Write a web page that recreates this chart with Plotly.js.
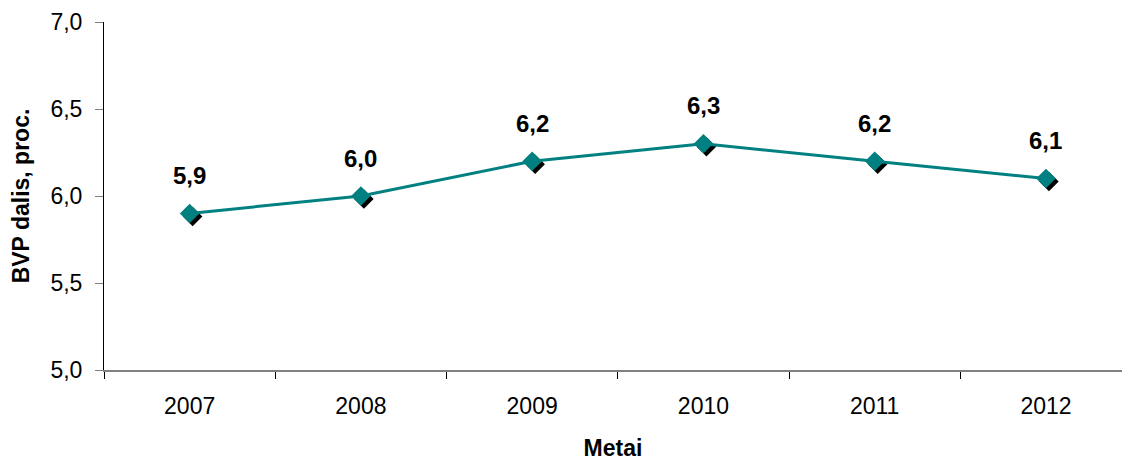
<!DOCTYPE html>
<html>
<head>
<meta charset="utf-8">
<script src="https://cdn.plot.ly/plotly-3.0.1.min.js"></script>
<style>html,body{margin:0;padding:0;background:#fff;}#chart{width:1122px;height:461px;}</style>
</head>
<body>
<div id="chart"></div>
<script>
const years = ['2007', '2008', '2009', '2010', '2011', '2012'];
const values = [5.9, 6.0, 6.2, 6.3, 6.2, 6.1];
const yTicks = [5.0, 5.5, 6.0, 6.5, 7.0];

const fmt = v => v.toFixed(1).replace('.', ',');
const teal = '#008080';
const FONT = 'Liberation Sans, Arial, sans-serif';

// true axis ranges (visible axes x2/y2) and a pixel-based shadow offset on hidden base axes
const xRange = [-0.5, 5.444];
const yRange = [5.0, 7.0];
const plotW = 1122 - 104, plotH = 461 - 22 - 91;
const dx = 3 * (xRange[1] - xRange[0]) / plotW;
const dy = 3 * (yRange[1] - yRange[0]) / plotH;

const shadow = {
  x: years, y: values, type: 'scatter', mode: 'markers',
  xaxis: 'x', yaxis: 'y',
  marker: {symbol: 'diamond', size: 15, color: '#000000'},
  hoverinfo: 'skip', showlegend: false
};
const main = {
  x: years, y: values, type: 'scatter', mode: 'lines+markers',
  xaxis: 'x2', yaxis: 'y2',
  line: {color: teal, width: 3},
  marker: {symbol: 'diamond', size: 15, color: teal},
  showlegend: false
};

const annotations = years.map((yr, i) => ({
  x: i, y: values[i], xref: 'x2', yref: 'y2', text: fmt(values[i]),
  showarrow: false, yshift: 38,
  font: {family: FONT, size: 24, color: '#000', weight: 'bold'}
}));

const layout = {
  width: 1122, height: 461,
  margin: {l: 104, r: 0, t: 22, b: 91},
  paper_bgcolor: '#fff', plot_bgcolor: '#fff',
  separators: ',.',
  font: {family: FONT, size: 23, color: '#000'},
  xaxis: {type: 'category', range: [xRange[0] - dx, xRange[1] - dx], visible: false, fixedrange: true},
  yaxis: {range: [yRange[0] + dy, yRange[1] + dy], visible: false, fixedrange: true},
  xaxis2: {
    overlaying: 'x', side: 'bottom',
    type: 'category', range: xRange, tickson: 'boundaries',
    showline: true, linecolor: '#808080', linewidth: 2,
    ticks: 'outside', ticklen: 7, tickcolor: '#000', tickwidth: 1,
    ticklabelstandoff: 14,
    showgrid: false, zeroline: false,
    tickfont: {size: 23}, fixedrange: true,
    title: {text: 'Metai', font: {size: 23, weight: 'bold'}, standoff: 22}
  },
  yaxis2: {
    overlaying: 'y', side: 'left',
    range: yRange, tickvals: yTicks, tickformat: '.1f',
    showline: true, linecolor: '#000', linewidth: 1,
    ticks: 'outside', ticklen: 8, tickcolor: '#808080', tickwidth: 1,
    ticklabelstandoff: 8,
    showgrid: false, zeroline: false,
    tickfont: {size: 23}, fixedrange: true,
    title: {text: 'BVP dalis, proc.', font: {size: 23, weight: 'bold'}, standoff: 14}
  },
  annotations: annotations
};

Plotly.newPlot('chart', [shadow, main], layout, {displayModeBar: false, staticPlot: true});
</script>
</body>
</html>
